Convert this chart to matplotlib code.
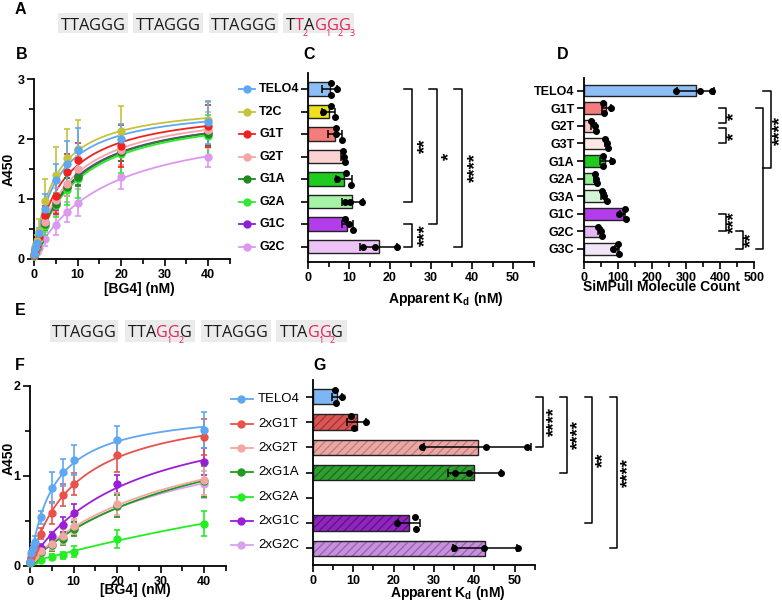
import numpy as np
import matplotlib
matplotlib.use('Agg')
import matplotlib.pyplot as plt
from matplotlib.transforms import blended_transform_factory as btf
from matplotlib.lines import Line2D
from matplotlib.patches import Rectangle

plt.rcParams['font.family'] = ['Liberation Sans', 'DejaVu Sans']
plt.rcParams['mathtext.fontset'] = 'custom'
plt.rcParams['mathtext.rm'] = 'Liberation Sans:bold'
plt.rcParams['mathtext.it'] = 'Liberation Sans:bold'
plt.rcParams['mathtext.bf'] = 'Liberation Sans:bold'
plt.rcParams['hatch.linewidth'] = 0.9

# ---------------- data ----------------
conc = [0, 0.3125, 0.625, 1.25, 2.5, 5, 7.5, 10, 20, 40]

# Panel B (A450 binding curves)
b_names = ['TELO4', 'T2C', 'G1T', 'G2T', 'G1A', 'G2A', 'G1C', 'G2C']
b_telo4 = [0.08, 0.18, 0.27, 0.43, 0.84, 1.31, 1.59, 1.81, 2.00, 2.28]
b_t2c = [0.08, 0.20, 0.30, 0.46, 0.96, 1.40, 1.68, 1.84, 2.13, 2.31]
b_g1t = [0.07, 0.15, 0.24, 0.37, 0.73, 1.05, 1.45, 1.65, 1.88, 2.22]
b_g2t = [0.06, 0.13, 0.21, 0.33, 0.62, 0.98, 1.25, 1.50, 1.82, 2.15]
b_g1a = [0.06, 0.12, 0.20, 0.30, 0.58, 0.92, 1.20, 1.37, 1.78, 2.08]
b_g2a = [0.05, 0.11, 0.18, 0.28, 0.55, 0.90, 1.15, 1.33, 1.75, 2.05]
b_g1c = [0.06, 0.12, 0.20, 0.30, 0.62, 0.95, 1.20, 1.38, 1.78, 2.10]
b_g2c = [0.05, 0.08, 0.12, 0.18, 0.33, 0.57, 0.78, 0.94, 1.36, 1.70]
b_sd_telo4 = [0.02, 0.04, 0.06, 0.08, 0.25, 0.28, 0.37, 0.37, 0.25, 0.36]
b_sd_t2c = [0.02, 0.05, 0.10, 0.20, 0.38, 0.46, 0.48, 0.47, 0.42, 0.30]
b_sd_g1t = [0.02, 0.04, 0.06, 0.10, 0.15, 0.30, 0.30, 0.28, 0.35, 0.35]
b_sd_g2t = [0.02, 0.03, 0.05, 0.08, 0.12, 0.20, 0.20, 0.22, 0.25, 0.30]
b_sd_g1a = [0.02, 0.03, 0.05, 0.08, 0.10, 0.15, 0.15, 0.15, 0.15, 0.20]
b_sd_g2a = [0.02, 0.03, 0.05, 0.08, 0.15, 0.20, 0.25, 0.32, 0.32, 0.35]
b_sd_g1c = [0.02, 0.03, 0.05, 0.07, 0.10, 0.13, 0.15, 0.15, 0.15, 0.20]
b_sd_g2c = [0.02, 0.02, 0.03, 0.05, 0.12, 0.17, 0.17, 0.22, 0.20, 0.16]

# Panel C (apparent Kd, nM)
c_mean = [5.3, 5.0, 6.6, 8.5, 8.8, 10.8, 9.6, 17.2]
c_sd = [1.8, 1.7, 1.7, 0.4, 1.9, 2.6, 1.3, 4.4]
c_pts = [[5.6, 7.0, 5.5], [5.6, 3.7, 6.6], [6.9, 8.2, 6.8], [8.8, 9.1, 8.5],
         [9.3, 7.1, 10.6], [10.3, 13.2, 9.0], [10.0, 11.0, 9.0], [16.3, 13.5, 21.8]]

# Panel D (SiMPull molecule count)
d_names = ['TELO4', 'G1T', 'G2T', 'G3T', 'G1A', 'G2A', 'G3A', 'G1C', 'G2C', 'G3C']
d_mean = [328, 65, 28, 67, 62, 34, 58, 114, 47, 97]
d_sd = [55, 13, 6, 5, 16, 4, 7, 8, 5, 7]
d_pts = [[340, 271, 377], [58, 78, 55], [32, 36, 22], [72, 69, 62], [55, 81, 57],
         [35, 39, 31], [67, 59, 52], [120, 104, 123], [42, 52, 49], [101, 86, 104]]

# Panel F (A450 binding curves, double mutants)
f_names = ['TELO4', '2xG1T', '2xG2T', '2xG1A', '2xG2A', '2xG1C', '2xG2C']
f_telo4 = [0.05, 0.14, 0.20, 0.27, 0.54, 0.87, 1.04, 1.18, 1.40, 1.51]
f_g1t = [0.05, 0.10, 0.15, 0.20, 0.36, 0.59, 0.79, 0.91, 1.23, 1.43]
f_g2t = [0.04, 0.07, 0.09, 0.11, 0.17, 0.25, 0.33, 0.44, 0.69, 0.96]
f_g1a = [0.04, 0.06, 0.08, 0.10, 0.16, 0.23, 0.30, 0.41, 0.67, 0.94]
f_g2a = [0.03, 0.05, 0.06, 0.07, 0.07, 0.10, 0.12, 0.16, 0.30, 0.47]
f_g1c = [0.04, 0.08, 0.11, 0.14, 0.20, 0.33, 0.46, 0.59, 0.91, 1.16]
f_g2c = [0.04, 0.06, 0.08, 0.10, 0.15, 0.23, 0.31, 0.42, 0.67, 0.91]
f_sd_telo4 = [0.01, 0.03, 0.04, 0.06, 0.07, 0.17, 0.15, 0.17, 0.16, 0.20]
f_sd_g1t = [0.01, 0.02, 0.03, 0.04, 0.06, 0.12, 0.12, 0.12, 0.18, 0.20]
f_sd_g2t = [0.01, 0.02, 0.02, 0.03, 0.05, 0.07, 0.08, 0.08, 0.12, 0.17]
f_sd_g1a = [0.01, 0.02, 0.02, 0.03, 0.05, 0.06, 0.07, 0.08, 0.12, 0.17]
f_sd_g2a = [0.01, 0.01, 0.01, 0.02, 0.02, 0.03, 0.04, 0.06, 0.10, 0.14]
f_sd_g1c = [0.01, 0.02, 0.02, 0.03, 0.04, 0.05, 0.08, 0.10, 0.10, 0.15]
f_sd_g2c = [0.01, 0.02, 0.02, 0.03, 0.05, 0.06, 0.07, 0.08, 0.12, 0.15]

# Panel G (apparent Kd, nM)
g_mean = [6.0, 10.8, 40.8, 40.0, np.nan, 23.8, 42.6]
g_sd = [1.3, 2.4, 13.2, 6.5, np.nan, 2.8, 8.0]
g_pts = [[5.8, 7.3, 5.4], [10.2, 13.2, 9.3], [27.0, 43.0, 53.1], [35.1, 38.6, 46.7],
         [], [25.4, 20.9, 25.6], [35.0, 42.4, 50.8]]

# sequences
seqA = ['TTAGGG', 'TTAGGG', 'TTAGGG', 'TTAGGG']
seqA_red = [{}, {}, {}, {1: '2', 3: '1', 4: '2', 5: '3'}]
seqE = ['TTAGGG', 'TTAGGG', 'TTAGGG', 'TTAGGG']
seqE_red = [{}, {3: '1', 4: '2'}, {}, {3: '1', 4: '2'}]

# ---------------- styles ----------------
b_line_colors = ['#5EA8F2', '#C4C43C', '#EE2222', '#F4A6A6', '#1E8A1E', '#33E833', '#8E1ED2', '#DC98F0']
c_bar_colors = ['#8DBEF5', '#EEE01A', '#F47C7C', '#FCD3D3', '#1ECC1E', '#A6F2A6', '#B43DEB', '#EEC4F7']
d_bar_colors = ['#8DBEF5', '#F47C7C', '#FACACA', '#FDE8E6', '#1ECC1E', '#94EE94', '#D4F6D4',
                '#B43DEB', '#E4B8F4', '#F1E6F8']
f_line_colors = ['#5EA8F2', '#E8524A', '#F2A8A0', '#1E9A1E', '#22EE22', '#9A1ED6', '#D8A2EE']
g_bar_colors = ['#7DB6F3', '#D95656', '#EBA7A5', '#2E9E2E', '#22EE22', '#8F25BF', '#C690DD']
g_hatch_colors = [None, '#A83232', '#C47A78', '#1C6C1C', None, '#5E1080', '#9660B0']
RED = '#E3245B'
EDGE = '#222222'
STAR_FS = 13.5

W, H = 782, 603
fig = plt.figure(figsize=(W / 100, H / 100), dpi=100)


def add_ax(l, t, r, b):
    return fig.add_axes([l / W, 1 - b / H, (r - l) / W, (b - t) / H])


def style_ax(ax):
    for s in ['top', 'right']:
        ax.spines[s].set_visible(False)
    for s in ['left', 'bottom']:
        ax.spines[s].set_linewidth(1.3)
    ax.tick_params(which='major', length=5, width=1.2, labelsize=9, pad=2)
    ax.tick_params(which='minor', length=3.5, width=1.2)
    for lab in ax.get_xticklabels() + ax.get_yticklabels():
        lab.set_fontweight('bold')


def fit_hyper(x, y):
    x = np.asarray(x, float)
    y = np.asarray(y, float)
    best = None
    for kd in np.logspace(-1, 3, 800):
        A = np.column_stack([np.ones_like(x), x / (kd + x)])
        coef = np.linalg.lstsq(A, y, rcond=None)[0]
        r = np.sum((A @ coef - y) ** 2)
        if best is None or r < best[0]:
            best = (r, kd, coef)
    return best[1], best[2]


def swarm(vals, thr, d):
    vals = np.asarray(vals, float)
    order = np.argsort(vals)
    offs = np.zeros(len(vals))
    clusters = []
    for idx in order:
        if clusters and vals[idx] - vals[clusters[-1][-1]] < thr:
            clusters[-1].append(idx)
        else:
            clusters.append([idx])
    for cl in clusters:
        n = len(cl)
        for j, idx in enumerate(cl):
            offs[idx] = (j - (n - 1) / 2) * d * (2 if n == 2 else 1)
    return offs


def curve_panel(ax, series, sds, colors, ymax):
    xs = np.linspace(0, 40, 300)
    for i in reversed(range(len(series))):
        kd, (y0, bm) = fit_hyper(conc, series[i])
        ax.plot(xs, y0 + bm * xs / (kd + xs), color=colors[i], lw=1.3, zorder=3)
        ax.errorbar(conc, series[i], yerr=sds[i], fmt='o', color=colors[i], ms=5,
                    capsize=2.5, elinewidth=1.2, capthick=1.2, zorder=4, clip_on=False)
    ax.set_xlim(0, 45)
    ax.set_ylim(0, ymax)
    ax.set_xticks([0, 10, 20, 30, 40])
    ax.set_xticks([5, 15, 25, 35, 45], minor=True)
    ax.set_yticks(np.arange(0, ymax + 1))
    ax.set_yticks(np.arange(0.5, ymax, 1.0), minor=True)
    style_ax(ax)
    ax.set_xlabel('[BG4] (nM)', fontsize=10, fontweight='bold')
    ax.set_ylabel('A450', fontsize=10, fontweight='bold')


def bar_panel(ax, means, sds, pts, colors, thr, hatch_colors=None, height=0.6):
    rows = np.arange(len(means))
    for i in rows:
        m = means[i]
        if np.isnan(m):
            continue
        if hatch_colors is not None and hatch_colors[i] is not None:
            ax.barh(i, m, height=height, color=colors[i], edgecolor=hatch_colors[i],
                    hatch='////', lw=0, zorder=2)
            ax.barh(i, m, height=height, fill=False, edgecolor=EDGE, lw=1.0, zorder=2.5)
        else:
            ax.barh(i, m, height=height, color=colors[i], edgecolor=EDGE, lw=1.0, zorder=2)
        ax.errorbar(m, i, xerr=sds[i], fmt='none', ecolor='k', elinewidth=1.1,
                    capsize=3, capthick=1.1, zorder=3)
        offs = swarm(pts[i], thr, 0.25 * height / 0.6)
        ax.plot(pts[i], i + offs, 'o', color='k', ms=4, zorder=4, clip_on=False)


def bracket(ax, r0, r1, x, tick, txt, tx, ty):
    ax.plot([x - tick, x, x, x - tick], [r0, r0, r1, r1], color='k', lw=1.1,
            clip_on=False, zorder=5)
    if txt:
        ax.text(tx, ty, txt, rotation=90, ha='center', va='center', fontsize=STAR_FS,
                fontweight='bold', clip_on=False)


# ---------------- Panel B ----------------
axB = add_ax(34, 79, 230, 259)
b_series = [b_telo4, b_t2c, b_g1t, b_g2t, b_g1a, b_g2a, b_g1c, b_g2c]
b_sds = [b_sd_telo4, b_sd_t2c, b_sd_g1t, b_sd_g2t, b_sd_g1a, b_sd_g2a, b_sd_g1c, b_sd_g2c]
curve_panel(axB, b_series, b_sds, b_line_colors, 3)
axB.xaxis.set_label_coords((139 - 34) / 196, (259 - 282) / 180)
axB.yaxis.set_label_coords((16 - 34) / 196, 0.5)

# ---------------- Panel C ----------------
axC = add_ax(308, 73, 533.5, 262)
bar_panel(axC, c_mean, c_sd, c_pts, c_bar_colors, thr=1.3)
axC.set_xlim(0, 55)
axC.set_ylim(7.68, -0.71)
axC.set_yticks(np.arange(8))
axC.set_yticklabels([])
axC.set_xticks([0, 10, 20, 30, 40, 50])
axC.set_xticks([5, 15, 25, 35, 45, 55], minor=True)
style_ax(axC)
axC.set_xlabel(r'Apparent K$_\mathrm{d}$ (nM)', fontsize=10, fontweight='bold')
axC.xaxis.set_label_coords((446 - 308) / 225.5, (262 - 290) / 189)
bracket(axC, 0, 5, 25.4, 2.0, '**', 28.6, 2.5)
bracket(axC, 0, 6, 31.5, 2.0, '*', 34.5, 3.0)
bracket(axC, 0, 7, 37.6, 2.0, '****', 40.8, 3.5)
bracket(axC, 6, 7, 25.4, 2.0, '***', 28.6, 6.5)

# legend for B, aligned with C rows
trC = btf(fig.transFigure, axC.transData)
for i, name in enumerate(b_names):
    fig.add_artist(Line2D([239 / W, 255 / W], [i, i], transform=trC, color=b_line_colors[i], lw=1.3))
    fig.add_artist(Line2D([247 / W], [i], transform=trC, marker='o', ms=5, color=b_line_colors[i], lw=0))
    fig.text(259 / W, i, name, transform=trC, ha='left', va='center', fontsize=9, fontweight='bold')

# ---------------- Panel D ----------------
axD = add_ax(584, 78, 754, 262)
bar_panel(axD, d_mean, d_sd, d_pts, d_bar_colors, thr=15, height=0.66)
axD.set_xlim(0, 500)
axD.set_ylim(9.74, -0.72)
axD.set_yticks(np.arange(10))
axD.set_yticklabels(d_names)
axD.set_xticks([0, 100, 200, 300, 400, 500])
axD.set_xticks([50, 150, 250, 350, 450], minor=True)
style_ax(axD)
axD.set_xlabel('SiMPull Molecule Count', fontsize=10, fontweight='bold')
axD.xaxis.set_label_coords((662 - 584) / 170, (262 - 280) / 184)
bracket(axD, 1, 1.85, 416.8, 20.6, '*', 443, 1.45)
bracket(axD, 2.15, 3, 416.8, 20.6, '*', 443, 2.6)
bracket(axD, 7, 8, 416.8, 20.6, '***', 443, 7.5)
bracket(axD, 8, 9, 468.5, 20.6, '**', 494, 8.5)
bracket(axD, 1, 9, 525.6, 20.6, '', 0, 0)
bracket(axD, 0, 4.4, 549, 23, '****', 578, 2.25)

# ---------------- Panel F ----------------
axF = add_ax(30, 386, 226, 566)
f_series = [f_telo4, f_g1t, f_g2t, f_g1a, f_g2a, f_g1c, f_g2c]
f_sds = [f_sd_telo4, f_sd_g1t, f_sd_g2t, f_sd_g1a, f_sd_g2a, f_sd_g1c, f_sd_g2c]
curve_panel(axF, f_series, f_sds, f_line_colors, 2)
axF.xaxis.set_label_coords((135 - 30) / 196, (566 - 583) / 180)
axF.yaxis.set_label_coords((16 - 30) / 196, (566 - 458) / 180)

# legend for F
for i, name in enumerate(f_names):
    yy = 1 - (399.3 + i * 24.3) / H
    fig.add_artist(Line2D([231 / W, 253 / W], [yy, yy], color=f_line_colors[i], lw=1.3))
    fig.add_artist(Line2D([241 / W], [yy], marker='o', ms=5, color=f_line_colors[i], lw=0))
    fig.text(258 / W, yy, name, ha='left', va='center', fontsize=9.5)

# ---------------- Panel G ----------------
axG = add_ax(313, 380, 534.8, 565)
bar_panel(axG, g_mean, g_sd, g_pts, g_bar_colors, thr=1.3, hatch_colors=g_hatch_colors)
axG.set_xlim(0, 55)
axG.set_ylim(6.66, -0.66)
axG.set_yticks(np.arange(7))
axG.set_yticklabels([])
axG.set_xticks([0, 10, 20, 30, 40, 50])
axG.set_xticks([5, 15, 25, 35, 45, 55], minor=True)
style_ax(axG)
axG.set_xlabel(r'Apparent K$_\mathrm{d}$ (nM)', fontsize=10, fontweight='bold')
axG.xaxis.set_label_coords((448 - 313) / 221.8, (565 - 584) / 185)
bracket(axG, 0, 2, 57.1, 1.74, '****', 60.0, 1.0)
bracket(axG, 0, 3, 63.0, 1.74, '****', 65.9, 1.5)
bracket(axG, 0, 5, 69.2, 1.74, '**', 72.1, 2.5)
bracket(axG, 0, 6, 75.4, 1.74, '****', 78.3, 3.0)

# ---------------- sequences ----------------
SEQ_FAMILY = ['Open Sans', 'DejaVu Sans']
renderer = fig.canvas.get_renderer()


def text_w(s, fs):
    t = fig.text(0, 0, s, family=SEQ_FAMILY, fontsize=fs)
    w = t.get_window_extent(renderer).width
    t.remove()
    return w


def draw_seq(seqs, reds, boxes, box_top, box_bot, baseline, target_w):
    fs = 12.5 * target_w / text_w(seqs[0], 12.5)
    for b, (x0, x1) in enumerate(boxes):
        fig.add_artist(Rectangle((x0 / W, 1 - box_bot / H), (x1 - x0) / W, (box_bot - box_top) / H,
                                 transform=fig.transFigure, color='#EBEBEB', lw=0, zorder=0))
        s = seqs[b]
        total = text_w(s, fs)
        start = (x0 + x1) / 2 - total / 2
        for k, ch in enumerate(s):
            right = start + text_w(s[:k + 1], fs)
            left = right - text_w(ch, fs)
            red = k in reds[b]
            fig.text(left / W, 1 - baseline / H, ch, color=RED if red else '#1A1A1A',
                     ha='left', va='baseline', family=SEQ_FAMILY, fontsize=fs)
            if red:
                fig.text((right - 1.5) / W, 1 - (baseline + 3.5) / H, reds[b][k], color=RED,
                         ha='left', va='center', fontsize=6.5, family=SEQ_FAMILY)


draw_seq(seqA, seqA_red, [(58, 128), (133, 203), (209, 278), (283, 354)], 13.3, 33.3, 30, 64)
draw_seq(seqE, seqE_red, [(50, 118), (125, 195), (201, 271), (276, 347)], 320, 342, 337, 63)

# ---------------- panel letters ----------------
for lab, x, y in [('A', 15, 14), ('B', 16, 59), ('C', 303, 59), ('D', 557, 59),
                  ('E', 15, 315), ('F', 15, 370), ('G', 313, 370)]:
    fig.text(x / W, 1 - y / H, lab, fontsize=11.5, fontweight='bold', ha='left', va='baseline')

fig.savefig('out.png', dpi=100)
